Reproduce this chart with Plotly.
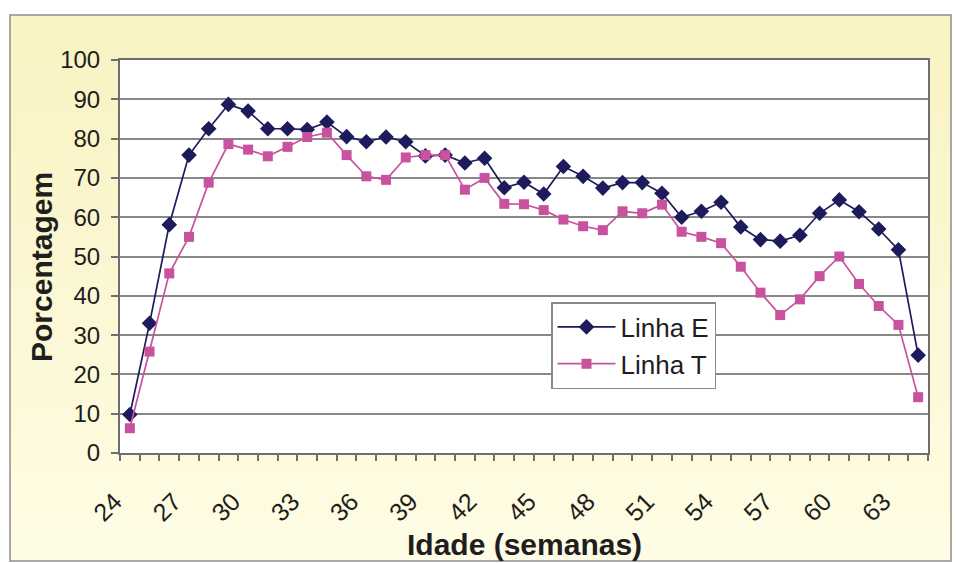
import plotly.graph_objects as go

# Idade em semanas (categorias do eixo X)
semanas = list(range(24, 65))

# Porcentagem por semana, linha E
linha_e = [9.8, 33.0, 58.1, 75.8, 82.5, 88.7, 87.0, 82.5, 82.5, 82.3,
           84.2, 80.5, 79.2, 80.4, 79.2, 75.6, 75.8, 73.8, 75.0, 67.5,
           68.9, 65.9, 72.9, 70.4, 67.4, 68.8, 68.8, 66.1, 60.0, 61.5,
           63.8, 57.5, 54.3, 53.9, 55.4, 61.0, 64.4, 61.4, 57.0, 51.7,
           24.9]

# Porcentagem por semana, linha T
linha_t = [6.3, 25.8, 45.7, 55.0, 68.8, 78.6, 77.2, 75.5, 77.9, 80.4,
           81.5, 75.8, 70.4, 69.5, 75.2, 75.8, 75.8, 67.0, 70.0, 63.4,
           63.3, 61.8, 59.4, 57.7, 56.7, 61.5, 61.0, 63.2, 56.3, 55.0,
           53.4, 47.4, 40.8, 35.1, 39.1, 45.0, 50.0, 43.0, 37.4, 32.6,
           14.2]

# Rótulos do eixo X (a cada 3 semanas) e do eixo Y
rotulos_x = list(range(24, 64, 3))
rotulos_y = list(range(0, 101, 10))

FONTE = "Liberation Sans, Arial, sans-serif"
COR_TEXTO = "#1e1e1e"
COR_E = "#1d1b5c"
COR_T = "#c8529e"

W, H = 956, 563
ML, MR, MT, MB = 120, 28, 60, 110
PW, PH = W - ML - MR, H - MT - MB


def px_x(px):
    """Pixel horizontal -> coordenada do papel."""
    return (px - ML) / PW


def px_y(px):
    """Pixel vertical -> coordenada do papel."""
    return (H - MB - px) / PH


fig = go.Figure()

fig.add_trace(go.Scatter(
    x=semanas, y=linha_e, name="Linha E", mode="lines+markers",
    line=dict(color=COR_E, width=1.7),
    marker=dict(symbol="diamond", size=12, color=COR_E),
))
fig.add_trace(go.Scatter(
    x=semanas, y=linha_t, name="Linha T", mode="lines+markers",
    line=dict(color=COR_T, width=1.7),
    marker=dict(symbol="square", size=10, color=COR_T),
))

# Fundo da área do gráfico: amarelo claro em degradê suave, com moldura
shapes = []
top_px, bot_px = 15, 561
n_faixas = 24
c_top = (249, 242, 194)
c_bot = (254, 252, 228)
for i in range(n_faixas):
    f = i / (n_faixas - 1)
    cor = tuple(round(a + (b - a) * f) for a, b in zip(c_top, c_bot))
    y_a = top_px + (bot_px - top_px) * i / n_faixas
    y_b = top_px + (bot_px - top_px) * (i + 1) / n_faixas + 0.6
    shapes.append(dict(
        type="rect", xref="paper", yref="paper", layer="below",
        x0=px_x(10), x1=px_x(951), y0=px_y(y_b), y1=px_y(y_a),
        fillcolor="rgb(%d,%d,%d)" % cor, line=dict(width=0),
    ))
# moldura externa
shapes.append(dict(
    type="rect", xref="paper", yref="paper", layer="below",
    x0=px_x(10), x1=px_x(951), y0=px_y(bot_px), y1=px_y(top_px),
    fillcolor="rgba(0,0,0,0)", line=dict(color="#8f8f86", width=1.5),
))
# área de plotagem branca
shapes.append(dict(
    type="rect", xref="paper", yref="paper", layer="below",
    x0=0, x1=1, y0=0, y1=1, fillcolor="white", line=dict(width=0),
))

fronteiras = [s - 0.5 for s in semanas] + [semanas[-1] + 0.5]

fig.update_layout(
    width=W, height=H,
    margin=dict(l=ML, r=MR, t=MT, b=MB),
    paper_bgcolor="white",
    plot_bgcolor="white",
    shapes=shapes,
    font=dict(family=FONTE, color=COR_TEXTO, size=24),
    showlegend=True,
    legend=dict(
        x=px_x(551), y=px_y(302),
        xanchor="left", yanchor="top",
        bgcolor="white", bordercolor="#8a8a8a", borderwidth=1.5,
        font=dict(family=FONTE, size=26, color=COR_TEXTO),
        tracegroupgap=2, itemwidth=58,
    ),
    xaxis=dict(
        range=[semanas[0] - 0.5, semanas[-1] + 0.5],
        tickmode="array", tickvals=rotulos_x, ticktext=[str(v) for v in rotulos_x],
        tickangle=-45, ticks="", showgrid=False, zeroline=False,
        showline=True, linecolor="#6e6e6e", linewidth=2, mirror=True,
        tickfont=dict(family=FONTE, size=25, color=COR_TEXTO),
        ticklabelstandoff=22, ticklabelshift=-15,
        minor=dict(tickmode="array", tickvals=fronteiras, ticks="outside",
                   ticklen=6, tickcolor="#6e6e6e", tickwidth=1.5, showgrid=False),
    ),
    yaxis=dict(
        range=[0, 100], tickmode="array", tickvals=rotulos_y,
        ticks="outside", ticklen=7, tickcolor="#6e6e6e", tickwidth=1.5,
        showgrid=True, gridcolor="#888888", gridwidth=2, zeroline=False,
        showline=True, linecolor="#6e6e6e", linewidth=2, mirror=True,
        tickfont=dict(family=FONTE, size=24, color=COR_TEXTO),
        ticklabelstandoff=6,
    ),
    annotations=[
        dict(text="<b>Idade (semanas)</b>", xref="paper", yref="paper",
             x=0.5, y=px_y(544), xanchor="center", yanchor="middle",
             showarrow=False, font=dict(family=FONTE, size=30, color=COR_TEXTO)),
        dict(text="<b>Porcentagem</b>", xref="paper", yref="paper",
             x=px_x(41), y=px_y(267),
             xanchor="center", yanchor="middle", textangle=-90,
             showarrow=False, font=dict(family=FONTE, size=30, color=COR_TEXTO)),
    ],
)

fig.write_html("out.html")
